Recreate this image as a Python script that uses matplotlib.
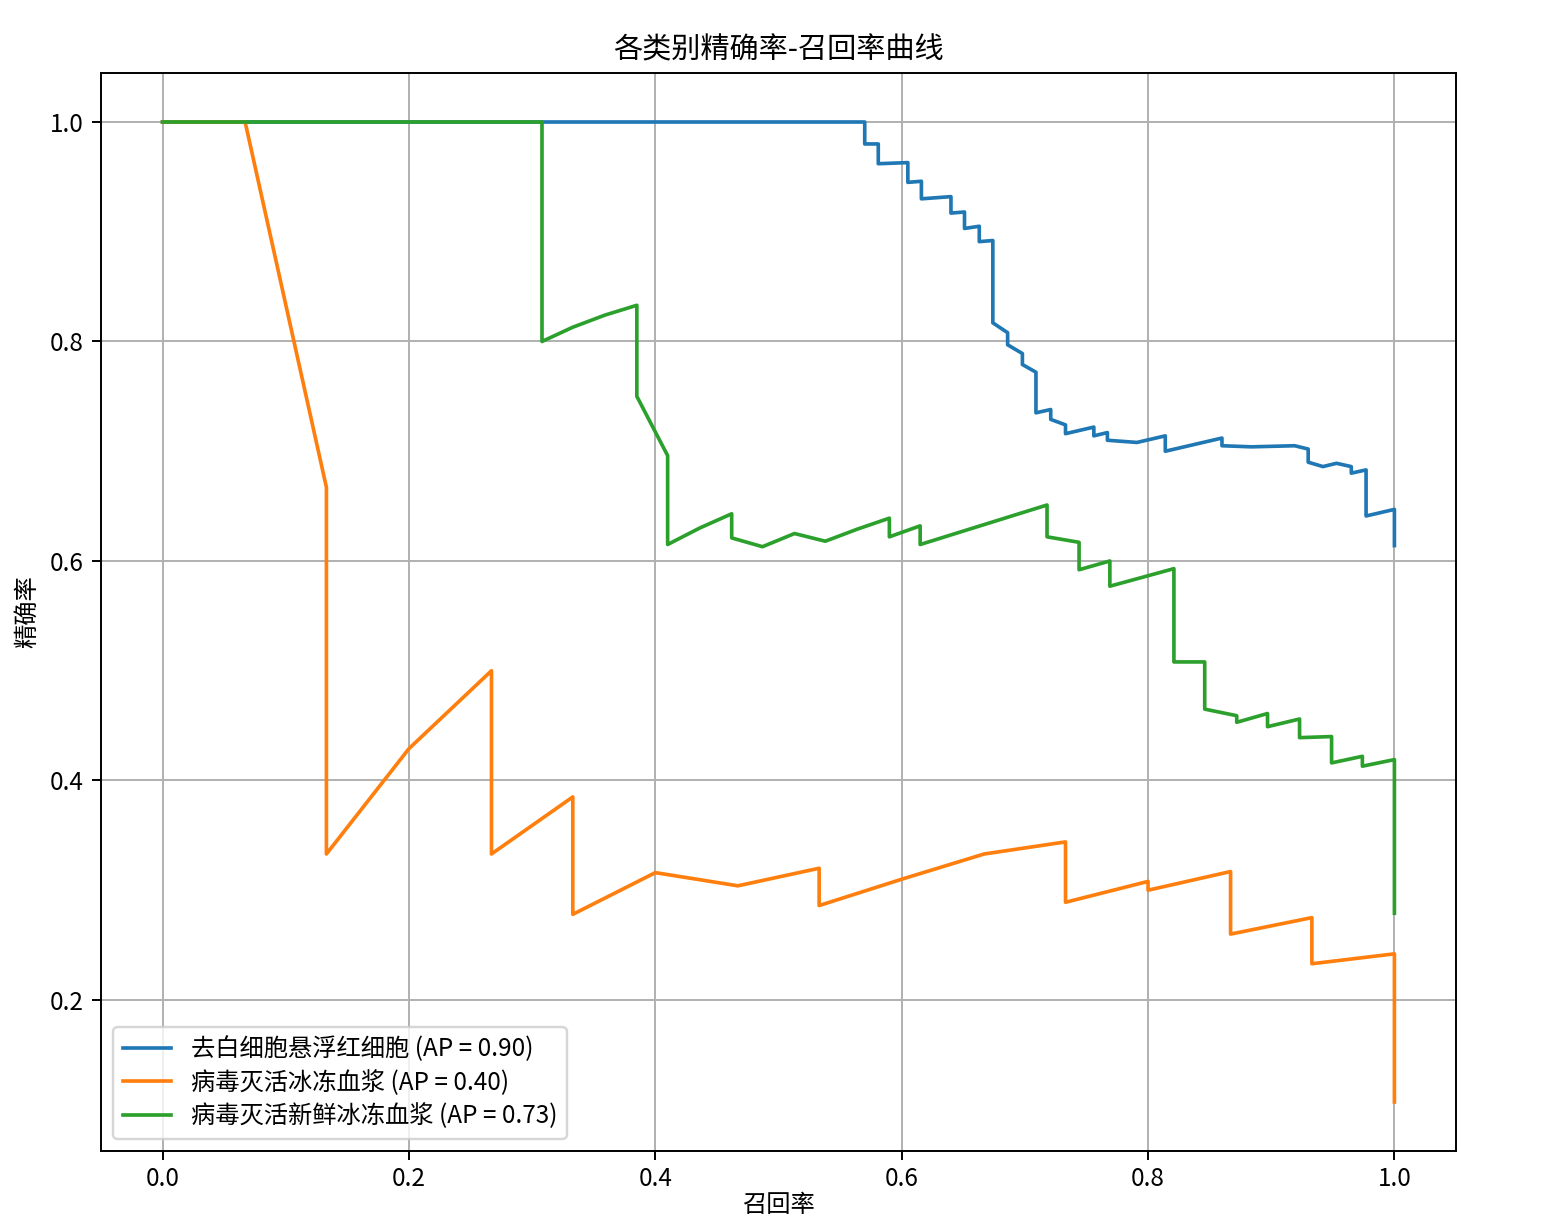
import matplotlib
matplotlib.use("Agg")
import matplotlib.pyplot as plt

plt.rcParams['font.family'] = ['Noto Sans CJK SC', 'DejaVu Sans']
plt.rcParams['axes.unicode_minus'] = False

# class names and average precision
classes = ["去白细胞悬浮红细胞", "病毒灭活冰冻血浆", "病毒灭活新鲜冰冻血浆"]
ap_values = [0.90, 0.40, 0.73]

recall_rbc = [0.0, 0.570, 0.570, 0.581, 0.581, 0.605, 0.605, 0.616, 0.616, 0.640,
              0.640, 0.651, 0.651, 0.663, 0.663, 0.674, 0.674, 0.686, 0.686, 0.698,
              0.698, 0.709, 0.709, 0.721, 0.721, 0.733, 0.733, 0.756, 0.756, 0.767,
              0.767, 0.791, 0.814, 0.814, 0.860, 0.860, 0.884, 0.919, 0.930, 0.930,
              0.942, 0.953, 0.965, 0.965, 0.977, 0.977, 1.0, 1.0]
precision_rbc = [1.0, 1.0, 0.980, 0.980, 0.962, 0.963, 0.945, 0.946, 0.930, 0.932,
                 0.917, 0.918, 0.903, 0.905, 0.891, 0.892, 0.817, 0.808, 0.797, 0.789,
                 0.779, 0.772, 0.735, 0.738, 0.729, 0.724, 0.716, 0.722, 0.714, 0.717,
                 0.710, 0.708, 0.714, 0.700, 0.712, 0.705, 0.704, 0.705, 0.702, 0.690,
                 0.686, 0.689, 0.686, 0.680, 0.683, 0.641, 0.647, 0.614]

recall_fp = [0.0, 0.067, 0.133, 0.133, 0.200, 0.267, 0.267, 0.333, 0.333, 0.400,
             0.467, 0.533, 0.533, 0.600, 0.667, 0.733, 0.733, 0.800, 0.800, 0.867,
             0.867, 0.933, 0.933, 1.0, 1.0]
precision_fp = [1.0, 1.0, 0.667, 0.333, 0.429, 0.500, 0.333, 0.385, 0.278, 0.316,
                0.304, 0.320, 0.286, 0.310, 0.333, 0.344, 0.289, 0.308, 0.300, 0.317,
                0.260, 0.275, 0.233, 0.242, 0.107]

recall_ffp = [0.0, 0.308, 0.308, 0.333, 0.359, 0.385, 0.385, 0.410, 0.410, 0.436,
              0.462, 0.462, 0.487, 0.513, 0.538, 0.564, 0.590, 0.590, 0.615, 0.615,
              0.718, 0.718, 0.744, 0.744, 0.769, 0.769, 0.821, 0.821, 0.846, 0.846,
              0.872, 0.872, 0.897, 0.897, 0.923, 0.923, 0.949, 0.949, 0.974, 0.974,
              1.0, 1.0]
precision_ffp = [1.0, 1.0, 0.800, 0.813, 0.824, 0.833, 0.750, 0.696, 0.615, 0.630,
                 0.643, 0.621, 0.613, 0.625, 0.618, 0.629, 0.639, 0.622, 0.632, 0.615,
                 0.651, 0.622, 0.617, 0.592, 0.600, 0.577, 0.593, 0.508, 0.508, 0.465,
                 0.459, 0.453, 0.461, 0.449, 0.456, 0.439, 0.440, 0.416, 0.422, 0.413,
                 0.419, 0.279]


def main():
    fig = plt.figure(figsize=(1543 / 175, 1224 / 175), dpi=175)
    ax = fig.add_axes([101 / 1543, 1 - 1151 / 1224, 1355 / 1543, 1078 / 1224])

    curves = [(recall_rbc, precision_rbc), (recall_fp, precision_fp),
              (recall_ffp, precision_ffp)]
    for (r, p), name, ap in zip(curves, classes, ap_values):
        ax.plot(r, p, label=f"{name} (AP = {ap:.2f})")

    ax.tick_params(axis="x", pad=2.5)
    ax.set_xlabel("召回率", labelpad=0)
    ax.set_ylabel("精确率")
    ax.set_title("各类别精确率-召回率曲线")
    ax.legend(loc="lower left", labelspacing=0.3)
    ax.grid(True)

    fig.savefig("out.png", dpi=175)


if __name__ == "__main__":
    main()
